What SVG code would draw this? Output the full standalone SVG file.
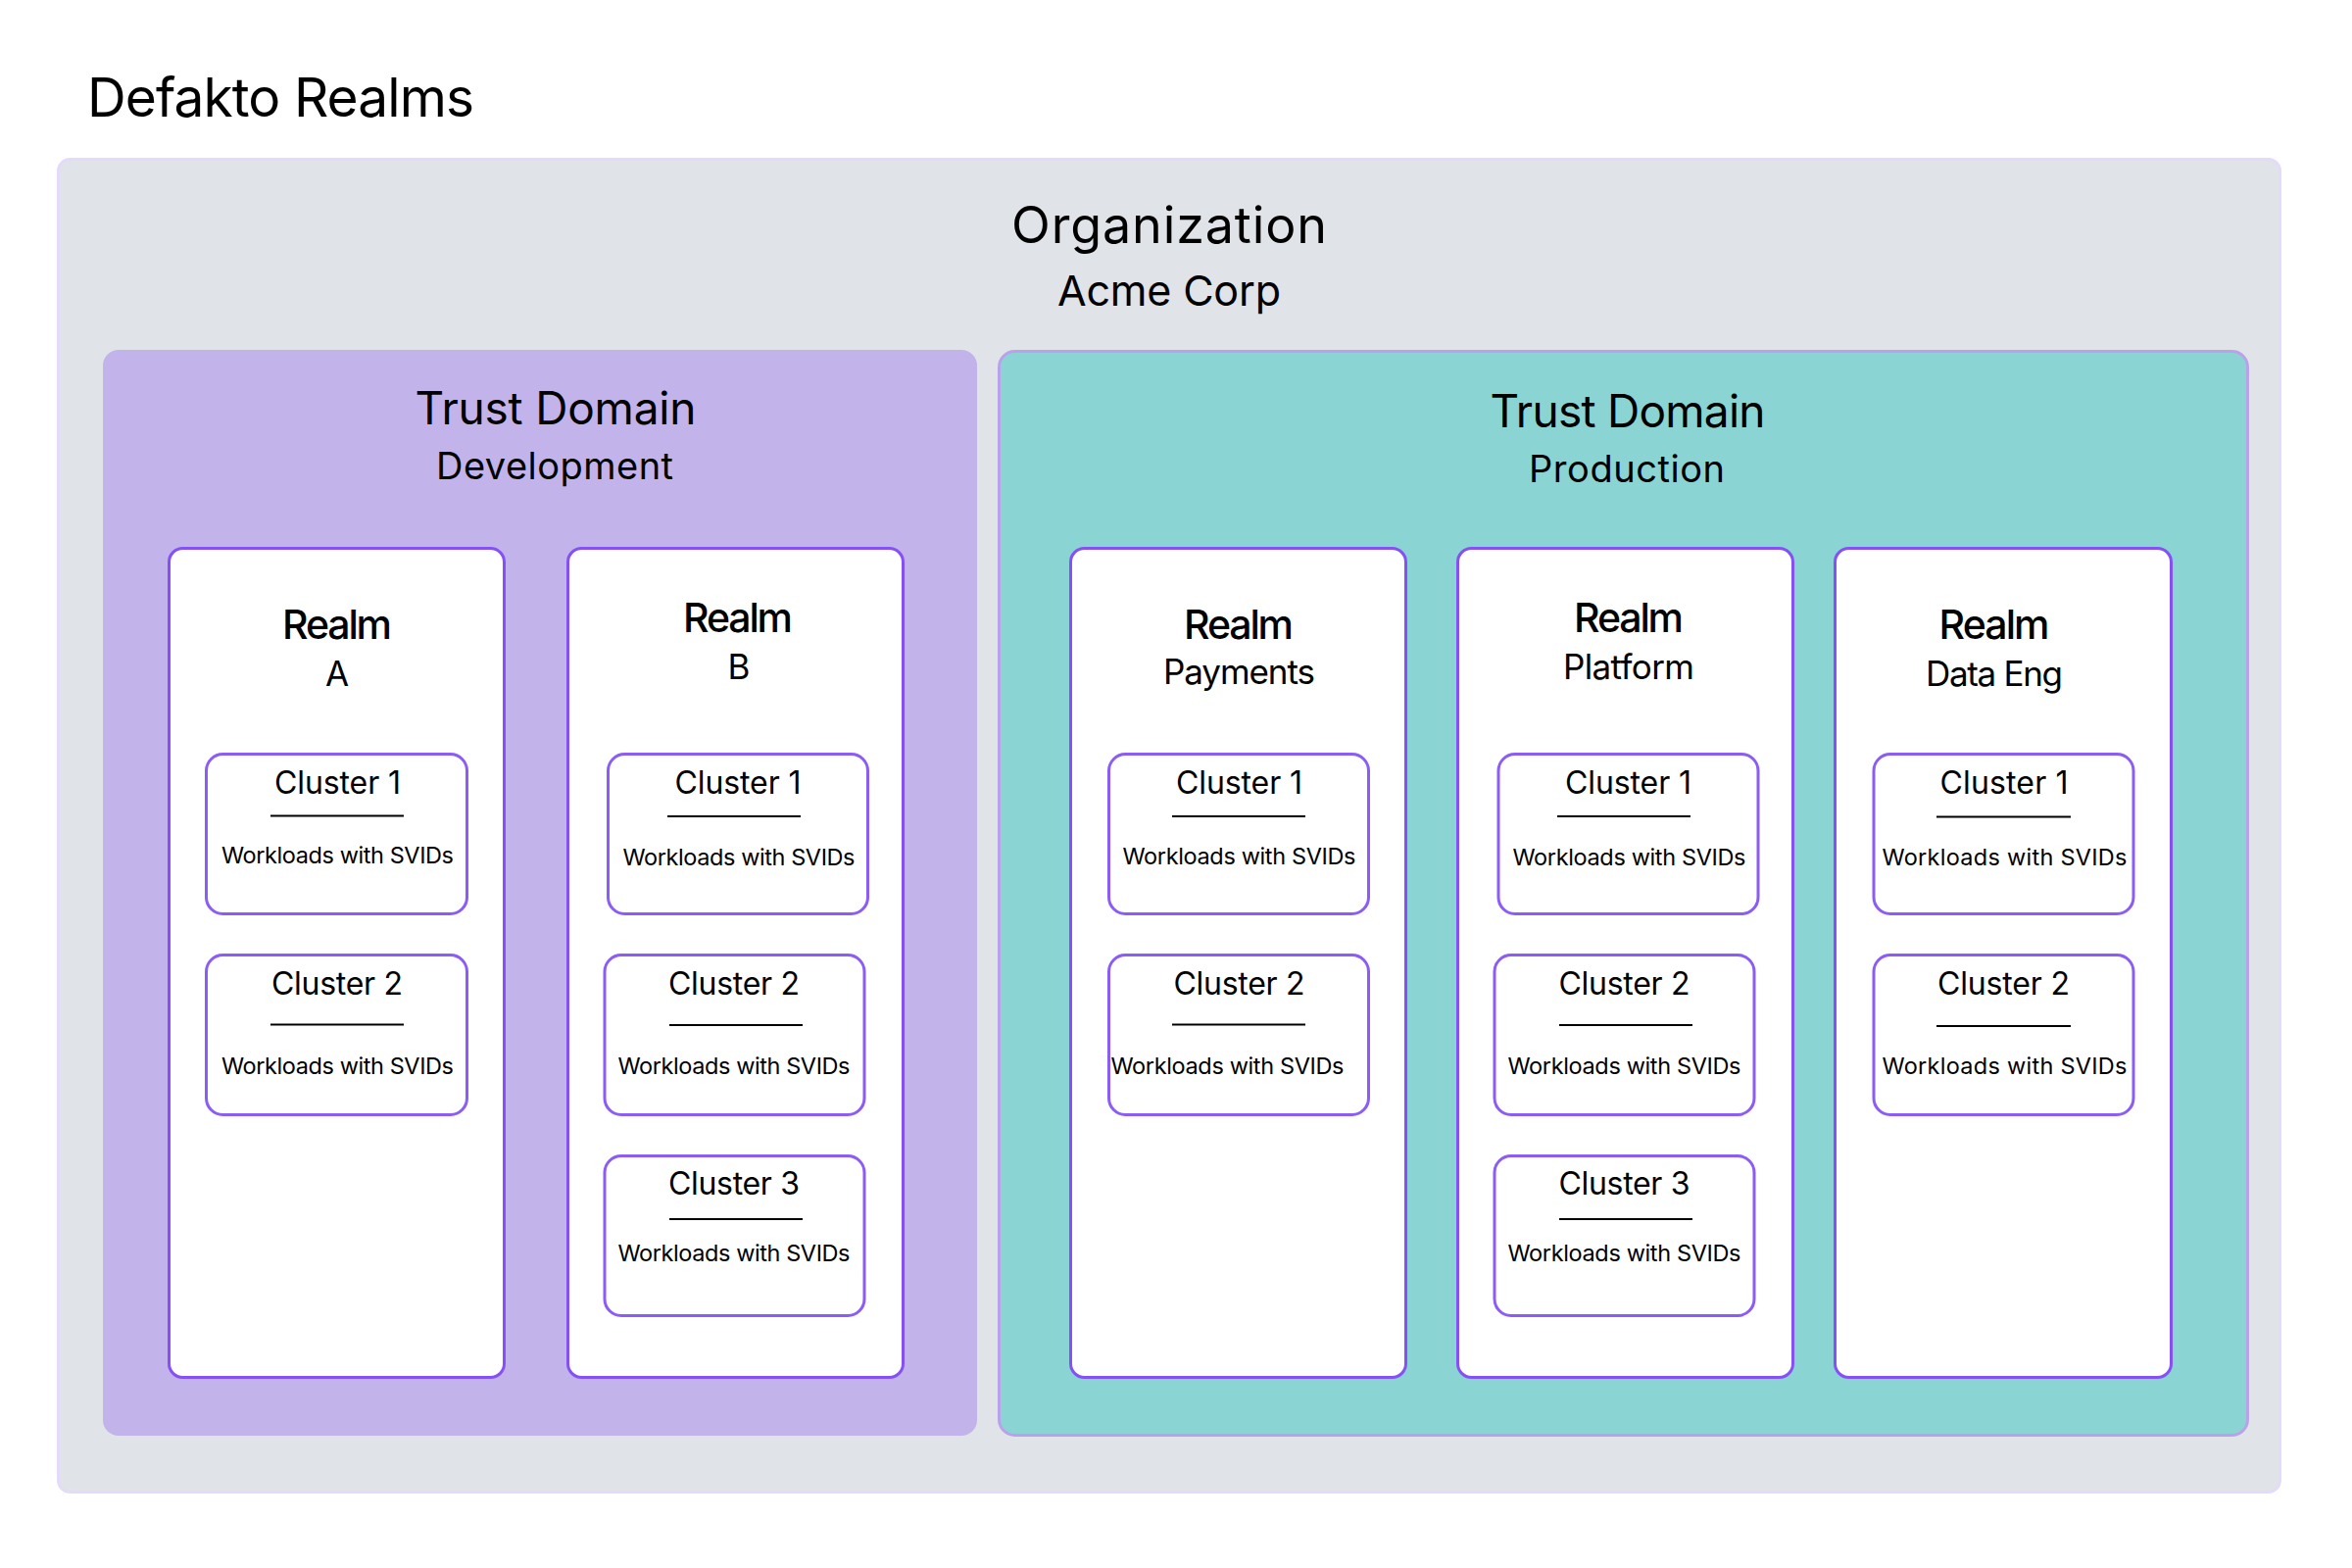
<svg xmlns="http://www.w3.org/2000/svg" width="2400" height="1600" viewBox="0 0 2400 1600">
<style>
text{font-family:Inter,"Noto Sans","Liberation Sans",sans-serif;fill:#000;text-anchor:middle}
.title{font-size:55px;text-anchor:start}
.org{font-size:52px}
.orgsub{font-size:43px}
.td{font-size:46px;font-weight:400}
.tdsub{font-size:38px}
.realm{font-size:41px;font-weight:500}
.realmsub{font-size:35px}
.cl{font-size:32px}
.wl{font-size:23.5px}
.orgbox{fill:#E0E3E7;stroke:#E4DAFA;stroke-width:3}
.dev{fill:#C2B3EB}
.prod{fill:#8AD5D3;stroke:#BAA2EA;stroke-width:3}
.realmbox{fill:#fff;stroke:#8551F6;stroke-width:3}
.clbox{fill:#fff;stroke:#8B5CF6;stroke-width:3}
.rule{stroke:#000;stroke-width:2}
</style>
<rect width="2400" height="1600" fill="#fff"/>
<text class="title" x="89" y="119" textLength="395">Defakto Realms</text>

<g id="org">
<rect class="orgbox" x="59.5" y="162.5" width="2267" height="1360" rx="12"/>
<text class="org" x="1193" y="248" textLength="322">Organization</text>
<text class="orgsub" x="1193" y="312" textLength="228">Acme Corp</text>
</g>

<g id="td-dev">
<rect class="dev" x="105" y="357" width="892" height="1108" rx="16"/>
<text class="td" x="567" y="433" textLength="287">Trust Domain</text>
<text class="tdsub" x="566" y="489" textLength="242">Development</text>
</g>

<g id="td-prod">
<rect class="prod" x="1019.5" y="358.5" width="1274" height="1106" rx="16"/>
<text class="td" x="1661" y="436" textLength="281">Trust Domain</text>
<text class="tdsub" x="1660" y="492" textLength="200">Production</text>
</g>

<g id="realm-a">
<rect class="realmbox" x="172.5" y="559.5" width="342" height="846" rx="14"/>
<text class="realm" x="344" y="652" textLength="112">Realm</text>
<text class="realmsub" x="344" y="700">A</text>
</g>
<g id="realm-b">
<rect class="realmbox" x="579.5" y="559.5" width="342" height="846" rx="14"/>
<text class="realm" x="753" y="645" textLength="112">Realm</text>
<text class="realmsub" x="754" y="693">B</text>
</g>
<g id="realm-payments">
<rect class="realmbox" x="1092.5" y="559.5" width="342" height="846" rx="14"/>
<text class="realm" x="1264" y="652" textLength="112">Realm</text>
<text class="realmsub" x="1264.5" y="698" textLength="155">Payments</text>
</g>
<g id="realm-platform">
<rect class="realmbox" x="1487.5" y="559.5" width="342" height="846" rx="14"/>
<text class="realm" x="1662" y="645" textLength="112">Realm</text>
<text class="realmsub" x="1662" y="693" textLength="134">Platform</text>
</g>
<g id="realm-dataeng">
<rect class="realmbox" x="1872.5" y="559.5" width="343" height="846" rx="14"/>
<text class="realm" x="2035" y="652" textLength="113">Realm</text>
<text class="realmsub" x="2035" y="700" textLength="140">Data Eng</text>
</g>

<g id="a-c1">
<rect class="clbox" x="210.5" y="769.5" width="266" height="163" rx="17"/>
<text class="cl" x="344.5" y="810" textLength="129">Cluster 1</text>
<line class="rule" x1="276" y1="832.5" x2="412" y2="832.5"/>
<text class="wl" x="344.5" y="881" textLength="237">Workloads with SVIDs</text>
</g>
<g id="a-c2">
<rect class="clbox" x="210.5" y="974.5" width="266" height="163" rx="17"/>
<text class="cl" x="344" y="1015" textLength="134">Cluster 2</text>
<line class="rule" x1="276" y1="1045.5" x2="412" y2="1045.5"/>
<text class="wl" x="344.5" y="1096" textLength="237">Workloads with SVIDs</text>
</g>

<g id="b-c1">
<rect class="clbox" x="620.5" y="769.5" width="265" height="163" rx="17"/>
<text class="cl" x="753" y="810" textLength="129">Cluster 1</text>
<line class="rule" x1="681" y1="833" x2="817" y2="833"/>
<text class="wl" x="754" y="883" textLength="237">Workloads with SVIDs</text>
</g>
<g id="b-c2">
<rect class="clbox" x="617" y="974.5" width="265" height="163" rx="17"/>
<text class="cl" x="749" y="1015" textLength="134">Cluster 2</text>
<line class="rule" x1="683" y1="1046" x2="819" y2="1046"/>
<text class="wl" x="749" y="1096" textLength="237">Workloads with SVIDs</text>
</g>
<g id="b-c3">
<rect class="clbox" x="617" y="1179.5" width="265" height="163" rx="17"/>
<text class="cl" x="749" y="1219" textLength="134">Cluster 3</text>
<line class="rule" x1="683" y1="1244" x2="819" y2="1244"/>
<text class="wl" x="749" y="1287" textLength="237">Workloads with SVIDs</text>
</g>

<g id="pay-c1">
<rect class="clbox" x="1131.5" y="769.5" width="265" height="163" rx="17"/>
<text class="cl" x="1264.5" y="810" textLength="129">Cluster 1</text>
<line class="rule" x1="1196" y1="833" x2="1332" y2="833"/>
<text class="wl" x="1264.5" y="881.5" textLength="238">Workloads with SVIDs</text>
</g>
<g id="pay-c2">
<rect class="clbox" x="1131.5" y="974.5" width="265" height="163" rx="17"/>
<text class="cl" x="1264.5" y="1015" textLength="134">Cluster 2</text>
<line class="rule" x1="1196" y1="1045.5" x2="1332" y2="1045.5"/>
<text class="wl" x="1252.5" y="1096" textLength="238">Workloads with SVIDs</text>
</g>

<g id="plat-c1">
<rect class="clbox" x="1529" y="769.5" width="265" height="163" rx="17"/>
<text class="cl" x="1661.5" y="810" textLength="129">Cluster 1</text>
<line class="rule" x1="1589" y1="833" x2="1725" y2="833"/>
<text class="wl" x="1662.5" y="883" textLength="238">Workloads with SVIDs</text>
</g>
<g id="plat-c2">
<rect class="clbox" x="1525" y="974.5" width="265" height="163" rx="17"/>
<text class="cl" x="1657.5" y="1015" textLength="134">Cluster 2</text>
<line class="rule" x1="1591" y1="1046" x2="1727" y2="1046"/>
<text class="wl" x="1657.5" y="1096" textLength="238">Workloads with SVIDs</text>
</g>
<g id="plat-c3">
<rect class="clbox" x="1525" y="1179.5" width="265" height="163" rx="17"/>
<text class="cl" x="1657.5" y="1219" textLength="134">Cluster 3</text>
<line class="rule" x1="1591" y1="1244" x2="1727" y2="1244"/>
<text class="wl" x="1657.5" y="1287" textLength="238">Workloads with SVIDs</text>
</g>

<g id="de-c1">
<rect class="clbox" x="1912" y="769.5" width="265" height="163" rx="17"/>
<text class="cl" x="2045" y="810" textLength="131">Cluster 1</text>
<line class="rule" x1="1976" y1="833.5" x2="2113" y2="833.5"/>
<text class="wl" x="2045.5" y="883" textLength="250">Workloads with SVIDs</text>
</g>
<g id="de-c2">
<rect class="clbox" x="1912" y="974.5" width="265" height="163" rx="17"/>
<text class="cl" x="2044.5" y="1015" textLength="135">Cluster 2</text>
<line class="rule" x1="1976" y1="1047" x2="2113" y2="1047"/>
<text class="wl" x="2045.5" y="1096" textLength="250">Workloads with SVIDs</text>
</g>

<g id="connectors"/>
</svg>
